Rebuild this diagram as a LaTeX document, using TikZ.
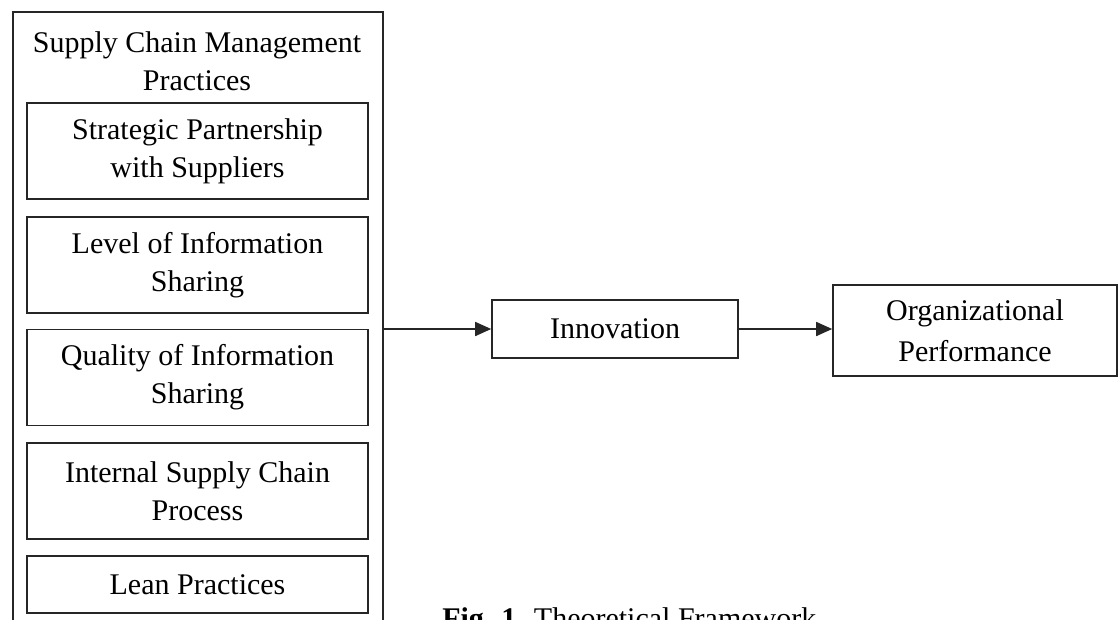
\documentclass[tikz,border=0pt]{standalone}
\usepackage{fontspec}
\setmainfont{Liberation Serif}
\usetikzlibrary{positioning,arrows.meta}

\tikzset{
  every node/.style={font=\fontsize{22.5}{28.5}\selectfont},
  box/.style={draw=black!85,line width=1.2pt,rectangle,align=center,inner sep=0pt},
  practice/.style={box,minimum width=255.75pt,minimum height=72pt},
  flow/.style={draw=black!85,line width=1.2pt,-{Triangle[length=12pt,width=10.5pt]}}
}

\begin{document}
\begin{tikzpicture}[x=0.75pt,y=-0.75pt]

  \useasboundingbox (0,0) rectangle (1118,619);
  \clip (0,0) rectangle (1118,619);

  % outer frame, runs past the bottom edge
  \node [box,anchor=north west,minimum width=277.5pt,minimum height=525pt] at(12,11) (scm) {};
  \node [align=center] at(197,61) (scm_title) {Supply Chain Management\\Practices};

  \node [practice] at(197.5,151) (partner) {Strategic Partnership\\with Suppliers};
  \node [practice] at(197.5,265) (info_level) {Level of Information\\Sharing};
  \node [practice] at(197.5,377.5) (info_quality) {Quality of Information\\Sharing};
  \node [practice] at(197.5,491) (internal) {Internal Supply Chain\\Process};
  \node [practice,minimum height=42.75pt] at(197.5,584.5) (lean) {Lean Practices};

  \node [box,minimum width=184.5pt,minimum height=43.5pt] at(615,329) (innov) {Innovation};
  \node [box,minimum width=213pt,minimum height=68.25pt,font=\fontsize{22.5}{30.75}\selectfont] at(975,330.5) (perf) {Organizational\\Performance};

  \draw [flow] (scm.east |- innov.west) -- (innov.west);
  \draw [flow] (innov.east) -- (perf.west |- innov.east);

  % caption, cut by the lower edge
  \node [anchor=base west,inner sep=0pt] at(442,628) (caption) {\textbf{Fig. 1.} Theoretical Framework};
\end{tikzpicture}
\end{document}
